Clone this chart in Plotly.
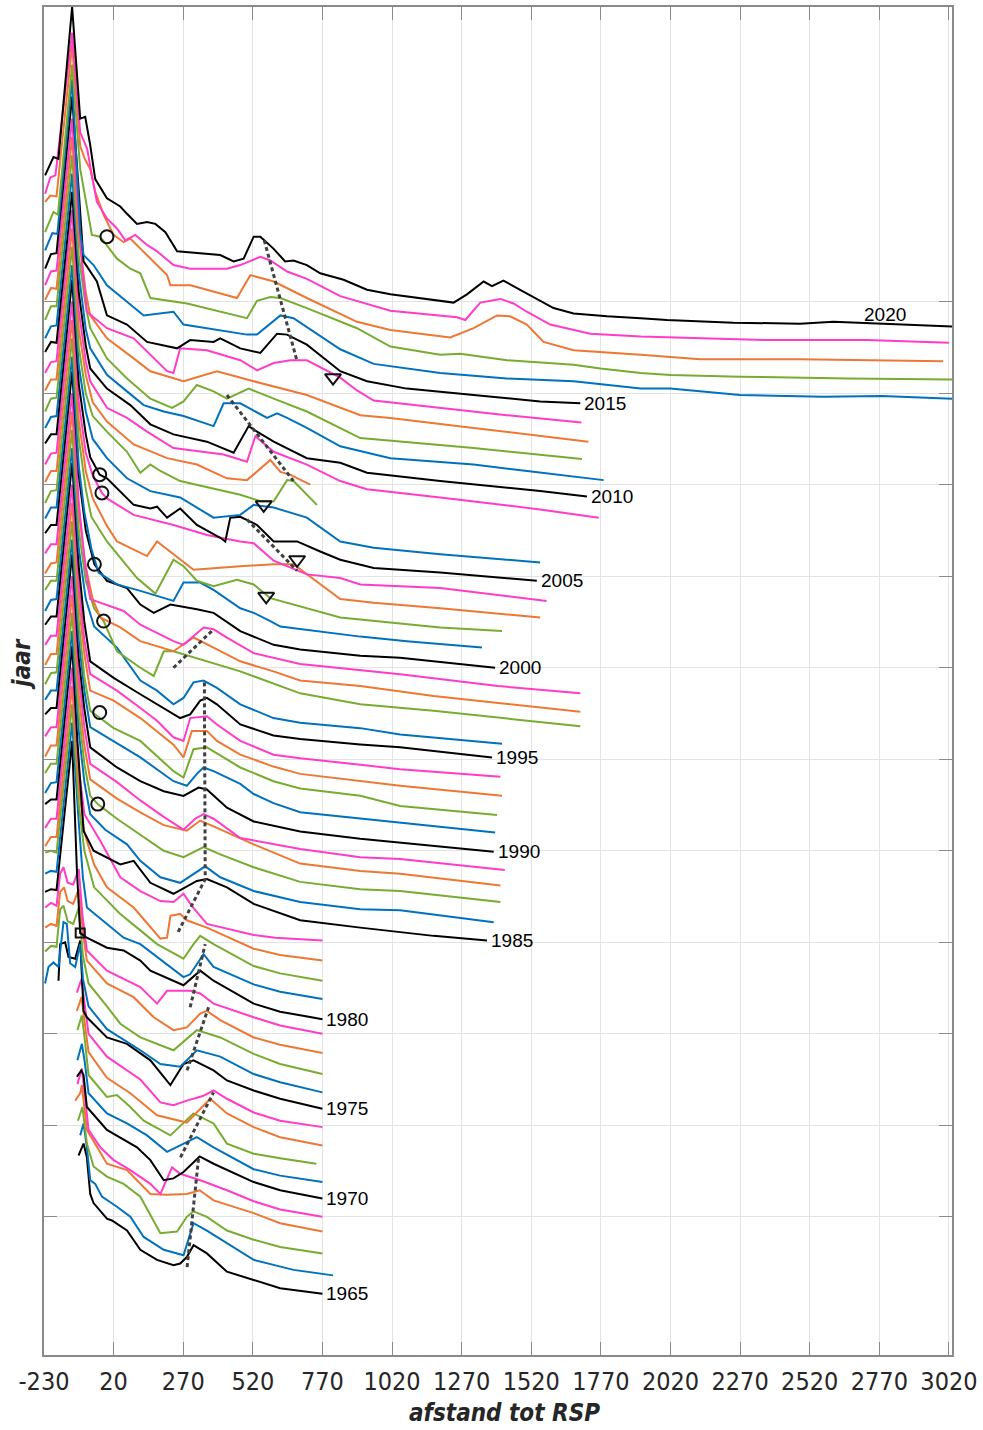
import plotly.graph_objects as go

# Cross-shore profiles per year: (distance to RSP [m], bed level [m]).
p1965 = [(-106,6.7),(-88,8.0),(-76,6.5),(-64,2.5),(-52,1.5),(-4,-0.2),(14,-0.4),(68,-1.5),(116,-3.6),(176,-4.7),(235,-5.3),(259,-5.1),(283,-4.4),(307,-3.1),(355,-4.0),(427,-6.0),(523,-6.9),(618,-7.8),(770,-8.4)]
p1966 = [(-100,6.9),(-88,8.2),(-76,5.6),(-64,2.0),(-46,1.6),(-22,0.2),(32,-0.9),(80,-2.0),(128,-4.2),(200,-5.6),(271,-6.2),(307,-2.7),(355,-3.5),(427,-4.9),(523,-6.7),(666,-7.8),(808,-8.4)]
p1967 = [(-108,6.5),(-92,8.0),(-76,4.0),(-52,1.5),(-4,0.4),(56,-0.4),(116,-1.8),(188,-5.8),(248,-5.6),(283,-4.0),(307,-3.4),(355,-4.0),(427,-5.5),(523,-6.5),(618,-7.3),(770,-8.0)]
p1968 = [(-118,6.7),(-100,7.5),(-94,8.4),(-76,3.5),(-4,-0.2),(68,-0.9),(152,-3.5),(212,-3.6),(283,-3.5),(329,-3.1),(379,-4.2),(523,-5.6),(618,-6.7),(770,-7.6)]
p1969 = [(-110,6.5),(-94,8.2),(-84,5.5),(-70,1.5),(-28,-0.4),(20,-1.8),(80,-2.9),(152,-4.4),(188,-5.5),(230,-2.6),(259,-3.3),(331,-4.0),(427,-5.1),(523,-6.3),(618,-7.2),(770,-8.0)]
p1970 = [(-112,5.3),(-96,6.0),(-88,5.5),(-76,2.0),(-4,-0.5),(104,-2.4),(152,-3.8),(200,-6.0),(235,-5.8),(271,-5.1),(329,-3.4),(379,-4.2),(523,-6.2),(618,-7.1),(770,-8.0)]
p1971 = [(-110,5.1),(-94,6.9),(-84,5.0),(-70,1.5),(-4,-0.7),(68,-1.8),(140,-3.1),(212,-4.9),(319,-3.3),(379,-4.4),(523,-6.8),(618,-7.5),(770,-8.2)]
p1972 = [(-110,6.4),(-94,8.0),(-84,5.5),(-70,1.5),(-4,-0.9),(32,-0.7),(80,-2.0),(128,-3.5),(224,-5.1),(307,-2.7),(379,-3.8),(427,-6.0),(523,-7.1),(618,-7.6),(748,-8.2)]
p1973 = [(-112,6.5),(-95,8.0),(-85,5.5),(-70,2.0),(-4,-0.8),(80,-2.5),(176,-4.9),(283,-5.7),(367,-3.1),(427,-4.7),(523,-6.2),(618,-7.3),(770,-8.2)]
p1974 = [(-112,6.5),(-95,8.0),(-85,5.5),(-70,2.0),(-4,-0.5),(116,-3.0),(188,-5.5),(235,-5.8),(283,-5.3),(340,-4.8),(379,-4.2),(427,-5.1),(523,-6.6),(618,-7.5),(770,-8.2)]
p1975 = [(-178,5.8),(-172,9.8),(-154,10.0),(-142,8.4),(-118,8.2),(-100,10.2),(-88,2.5),(-76,1.8),(-4,-0.4),(68,-1.1),(152,-2.9),(224,-5.6),(271,-3.3),(307,-2.9),(379,-4.0),(427,-5.1),(523,-6.2),(618,-7.1),(770,-8.2)]
p1976 = [(-226,3.5),(-214,5.3),(-196,5.8),(-178,5.3),(-160,10.2),(-148,10.0),(-136,5.7),(-118,5.3),(-100,7.8),(-90,4.0),(-70,1.0),(-4,-1.5),(116,-3.8),(188,-5.3),(259,-5.6),(319,-3.8),(403,-4.5),(523,-6.4),(618,-7.3),(770,-8.4)]
p1977 = [(-226,5.0),(-205,5.6),(-185,5.5),(-172,9.6),(-160,10.0),(-145,8.3),(-125,8.0),(-105,9.8),(-90,4.5),(-70,1.5),(-4,-1.0),(44,-2.9),(116,-4.4),(235,-5.8),(319,-3.6),(403,-4.4),(523,-6.2),(618,-7.3),(770,-8.4)]
p1978 = [(-226,5.6),(-205,6.0),(-185,5.8),(-172,9.5),(-158,10.0),(-145,8.5),(-125,8.2),(-105,9.8),(-90,5.0),(-76,2.0),(-4,-0.5),(92,-2.0),(164,-4.2),(235,-5.6),(283,-5.3),(331,-3.8),(355,-3.5),(403,-4.5),(523,-6.4),(618,-7.2),(770,-8.1)]
p1979 = [(-226,5.8),(-205,6.3),(-185,6.0),(-172,9.5),(-160,10.2),(-145,8.5),(-125,8.3),(-105,10.0),(-92,5.0),(-76,1.1),(-4,-1.1),(116,-2.9),(176,-4.7),(212,-3.3),(295,-3.3),(331,-3.6),(379,-4.7),(523,-6.2),(618,-7.1),(770,-8.0)]
p1980 = [(-226,5.5),(-205,5.8),(-185,5.7),(-129,22.0),(-112,8.0),(-100,1.0),(-76,0.5),(-4,-0.6),(56,-0.9),(116,-2.0),(152,-3.1),(271,-4.7),(331,-3.1),(379,-4.2),(523,-6.7),(618,-7.6),(770,-8.4)]
p1981 = [(-226,5.5),(-205,5.8),(-185,5.7),(-129,22.0),(-105,11.0),(-90,5.0),(-76,1.8),(56,-1.5),(116,-2.2),(200,-4.2),(271,-5.8),(295,-5.5),(319,-4.4),(343,-3.3),(379,-4.7),(523,-6.6),(618,-7.4),(770,-8.2)]
p1982 = [(-226,5.8),(-205,6.0),(-185,5.8),(-129,22.0),(-105,11.0),(-85,6.0),(-50,2.0),(44,-0.9),(116,-2.7),(176,-4.2),(271,-5.8),(307,-4.2),(331,-3.3),(379,-4.2),(523,-6.6),(618,-7.4),(770,-8.2)]
p1983 = [(-226,4.5),(-205,5.5),(-185,5.5),(-129,22.0),(-105,11.0),(-85,6.0),(-50,2.5),(-4,0.0),(92,-2.2),(164,-4.7),(188,-5.6),(212,-5.5),(224,-3.1),(259,-2.9),(283,-3.6),(355,-4.4),(523,-6.7),(618,-7.4),(770,-8.0)]
p1984 = [(-226,4.5),(-205,5.5),(-185,5.5),(-129,22.0),(-105,11.0),(-85,6.0),(-28,3.1),(44,-0.9),(116,-2.4),(188,-3.5),(235,-3.6),(271,-2.7),(300,-4.0),(355,-6.0),(523,-7.2),(600,-7.5),(770,-7.8)]
p1985 = [(-226,5.1),(-205,5.6),(-185,5.6),(-129,22.4),(-110,12.0),(-95,5.0),(-88,2.2),(-52,0.0),(44,-1.5),(92,-1.1),(152,-3.5),(235,-4.7),(319,-3.3),(355,-3.1),(427,-4.0),(523,-5.8),(690,-7.6),(906,-8.4),(1169,-9.3),(1361,-9.8)]
p1986 = [(-226,4.3),(-205,5.4),(-185,5.5),(-129,22.0),(-105,11.0),(-85,5.5),(-64,2.0),(-10,0.3),(68,-1.3),(116,-3.1),(188,-4.9),(259,-5.5),(349,-3.7),(403,-4.9),(523,-6.4),(690,-7.6),(906,-8.4),(1049,-8.5),(1385,-9.8)]
p1987 = [(-226,4.5),(-205,5.5),(-185,5.5),(-129,22.0),(-105,11.0),(-85,5.5),(-64,2.0),(-37,1.1),(32,-0.5),(116,-2.3),(200,-4.0),(271,-4.7),(343,-3.6),(403,-4.4),(523,-5.8),(690,-7.4),(906,-8.2),(1049,-8.4),(1409,-9.6)]
p1988 = [(-226,4.3),(-205,5.5),(-185,5.5),(-129,22.0),(-105,11.0),(-85,5.5),(-64,1.8),(32,-0.3),(116,-1.8),(200,-3.2),(283,-3.8),(331,-2.7),(391,-3.5),(523,-5.3),(690,-7.4),(906,-8.2),(1049,-8.5),(1409,-9.8)]
p1989 = [(-226,4.5),(-205,5.5),(-185,5.5),(-129,22.0),(-105,11.0),(-85,5.5),(-64,1.5),(32,-0.5),(116,-2.5),(200,-4.3),(271,-5.7),(313,-4.5),(343,-4.0),(379,-4.5),(475,-6.6),(690,-7.8),(906,-8.7),(1049,-8.9),(1425,-10.1)]
p1990 = [(-226,4.9),(-205,5.6),(-185,5.6),(-129,22.4),(-105,11.0),(-85,5.5),(-64,1.3),(32,-0.9),(116,-2.4),(200,-3.5),(271,-4.0),(325,-3.1),(355,-3.3),(427,-5.3),(523,-6.8),(690,-7.9),(906,-8.7),(1049,-9.1),(1385,-10.1)]
p1991 = [(-226,4.5),(-205,5.5),(-185,5.5),(-129,22.0),(-105,11.0),(-85,5.5),(-64,1.5),(20,0.0),(116,-1.8),(235,-4.4),(283,-4.9),(319,-3.6),(343,-2.9),(379,-3.3),(475,-4.7),(523,-5.8),(594,-6.8),(690,-7.8),(1049,-8.9),(1390,-10.0)]
p1992 = [(-226,4.2),(-205,5.4),(-185,5.5),(-129,22.0),(-105,11.0),(-85,5.0),(-64,1.3),(20,-0.6),(116,-2.0),(235,-5.3),(271,-6.0),(307,-2.9),(355,-2.7),(475,-4.9),(594,-6.4),(690,-7.2),(906,-8.0),(1049,-9.1),(1397,-10.1)]
p1993 = [(-226,4.3),(-205,5.5),(-185,5.5),(-129,22.0),(-105,11.0),(-85,5.5),(-64,1.5),(20,0.4),(116,-1.5),(235,-4.4),(271,-5.8),(301,-2.9),(355,-2.9),(391,-4.0),(475,-5.5),(594,-6.8),(690,-7.6),(906,-8.4),(1049,-8.9),(1415,-10.0)]
p1994 = [(-226,4.5),(-205,5.5),(-185,5.5),(-129,22.0),(-105,11.0),(-85,5.0),(-64,1.3),(32,-0.5),(116,-2.4),(176,-3.8),(235,-5.6),(271,-6.0),(295,-3.5),(355,-3.3),(391,-4.2),(475,-6.0),(594,-7.5),(690,-7.9),(906,-8.6),(1049,-9.1),(1409,-9.9)]
p1995 = [(-226,4.7),(-205,5.6),(-185,5.6),(-129,22.4),(-105,11.0),(-85,5.0),(-64,0.7),(20,-1.1),(116,-2.9),(176,-4.0),(259,-5.5),(295,-5.1),(331,-3.6),(355,-3.3),(391,-4.0),(475,-6.2),(594,-7.4),(690,-7.8),(906,-8.4),(1049,-8.7),(1379,-9.8)]
p1996 = [(-226,4.2),(-205,5.4),(-185,5.5),(-129,22.0),(-105,11.0),(-80,5.5),(-50,2.5),(32,0.2),(116,-3.4),(176,-4.5),(235,-6.0),(271,-5.3),(307,-3.6),(343,-3.4),(391,-4.2),(475,-6.0),(594,-7.5),(690,-8.0),(906,-8.6),(1049,-9.3),(1415,-10.3)]
p1997 = [(-226,4.5),(-205,5.5),(-185,5.5),(-129,22.0),(-105,11.0),(-80,5.5),(-50,2.5),(-16,1.1),(32,-2.2),(116,-4.0),(164,-4.9),(200,-2.2),(235,-2.2),(355,-3.3),(475,-4.4),(690,-6.8),(906,-8.0),(1169,-8.7),(1696,-10.4)]
p1998 = [(-226,4.3),(-205,5.4),(-185,5.5),(-129,22.0),(-105,11.0),(-80,5.0),(-55,1.5),(-28,-0.5),(44,-1.6),(116,-3.1),(235,-4.2),(307,-2.7),(379,-3.8),(475,-5.3),(594,-6.4),(690,-7.4),(906,-8.0),(1169,-9.1),(1696,-10.8)]
p1999 = [(-226,4.5),(-205,5.5),(-185,5.5),(-129,22.0),(-105,10.0),(-85,4.0),(-64,-0.5),(56,-1.8),(116,-3.3),(235,-5.1),(271,-5.5),(343,-3.6),(379,-3.8),(427,-4.7),(523,-6.4),(690,-7.6),(1049,-8.7),(1400,-10.0),(1696,-10.8)]
p2000 = [(-226,4.7),(-205,5.6),(-185,5.6),(-129,22.4),(-105,11.0),(-80,5.0),(-49,1.3),(-4,-0.5),(68,-1.3),(116,-3.1),(164,-4.0),(224,-3.1),(319,-3.6),(379,-4.0),(475,-6.0),(595,-7.5),(690,-8.0),(906,-8.7),(1049,-8.9),(1390,-10.0)]
p2001 = [(-226,4.3),(-205,5.5),(-185,5.5),(-129,22.0),(-105,10.0),(-85,5.0),(-60,1.0),(-34,-1.6),(32,-2.9),(116,-3.6),(235,-4.7),(271,-2.7),(331,-2.7),(379,-3.5),(475,-5.5),(523,-6.0),(583,-6.9),(619,-7.5),(906,-8.6),(1073,-9.1),(1343,-9.8)]
p2002 = [(-226,4.0),(-205,5.3),(-185,5.4),(-129,22.0),(-105,11.0),(-80,5.5),(-60,2.5),(-4,-0.2),(104,-4.2),(170,-5.9),(235,-2.2),(271,-2.9),(319,-4.5),(379,-5.1),(463,-4.4),(523,-4.9),(583,-6.4),(714,-7.5),(834,-8.5),(1193,-9.6),(1415,-10.0)]
p2003 = [(-226,4.3),(-205,5.5),(-185,5.5),(-129,22.0),(-105,11.0),(-80,5.5),(-55,2.5),(-4,-0.5),(32,-2.2),(140,-3.8),(176,-2.2),(307,-5.3),(475,-4.9),(595,-4.7),(666,-4.7),(762,-6.9),(834,-8.5),(954,-8.9),(1193,-9.5),(1552,-10.5)]
p2004 = [(-226,4.2),(-205,5.4),(-185,5.5),(-129,22.0),(-105,11.0),(-80,5.5),(-55,3.0),(-22,1.1),(-4,0.5),(92,-1.3),(235,-2.4),(355,-3.5),(475,-4.2),(523,-4.4),(595,-6.3),(714,-7.8),(834,-8.2),(906,-8.9),(1193,-9.3),(1575,-10.7)]
p2005 = [(-226,4.5),(-205,5.5),(-185,5.5),(-129,22.4),(-105,11.0),(-80,5.5),(-64,3.0),(-30,1.1),(-4,0.7),(92,-2.2),(152,-2.6),(176,-2.4),(212,-3.6),(259,-2.6),(319,-4.4),(403,-5.8),(421,-6.2),(439,-3.6),(475,-3.5),(535,-4.4),(595,-6.2),(679,-6.2),(762,-7.3),(834,-8.2),(954,-9.1),(1193,-9.6),(1540,-10.5)]
p2006 = [(-226,4.2),(-205,5.4),(-185,5.5),(-129,22.0),(-105,11.0),(-80,6.0),(-55,3.0),(-4,0.9),(68,-1.3),(152,-2.7),(259,-3.4),(379,-5.6),(475,-5.3),(523,-4.2),(595,-4.5),(714,-5.6),(834,-8.2),(954,-8.9),(1193,-9.6),(1552,-10.5)]
p2007 = [(-226,4.0),(-205,5.4),(-185,5.5),(-129,22.0),(-105,11.0),(-80,6.0),(-55,3.5),(-4,1.8),(68,-0.4),(116,-2.7),(152,-1.8),(188,-2.5),(259,-3.6),(379,-4.4),(475,-5.1),(547,-5.8),(595,-5.8),(643,-3.5),(666,-3.6),(750,-6.2)]
p2008 = [(-226,4.3),(-205,5.5),(-185,5.5),(-129,22.0),(-105,11.0),(-80,6.0),(-55,3.0),(-4,0.9),(92,-1.6),(212,-3.1),(319,-3.8),(427,-5.3),(499,-5.5),(583,-3.3),(619,-4.6),(654,-4.9),(726,-6.0)]
p2009 = [(-226,4.2),(-205,5.4),(-185,5.5),(-129,22.0),(-105,11.0),(-80,5.5),(-64,3.3),(-4,0.4),(68,-0.7),(140,-2.2),(235,-4.0),(415,-4.7),(499,-5.5),(529,-2.7),(595,-4.4),(714,-5.8),(834,-7.6),(930,-8.5),(1193,-9.4),(1552,-10.7),(1762,-11.6)]
p2010 = [(-226,4.5),(-205,5.6),(-185,5.5),(-129,22.0),(-105,11.0),(-80,5.2),(-64,2.7),(-4,0.5),(80,-1.3),(152,-3.4),(235,-4.5),(355,-5.3),(451,-6.5),(505,-3.6),(535,-4.2),(595,-5.3),(714,-7.1),(834,-7.6),(930,-8.7),(1193,-9.6),(1552,-10.7),(1720,-11.3)]
p2011 = [(-226,4.0),(-205,5.3),(-185,5.4),(-129,22.0),(-105,11.0),(-80,5.0),(-64,2.9),(-4,0.0),(68,-1.8),(128,-3.3),(200,-4.0),(271,-4.5),(379,-5.6),(415,-3.1),(475,-3.1),(571,-4.7),(607,-4.2),(643,-4.7),(714,-5.8),(834,-7.8),(1014,-9.1),(1313,-9.8),(1505,-10.5),(1780,-11.5)]
p2012 = [(-226,4.0),(-205,5.5),(-185,5.5),(-129,22.0),(-105,11.0),(-80,5.5),(-64,3.1),(-4,-0.2),(68,-2.4),(152,-4.6),(230,-5.6),(271,-4.9),(319,-3.1),(379,-3.8),(427,-4.6),(505,-3.5),(595,-4.6),(714,-6.0),(906,-8.9),(1313,-10.0),(1702,-11.2)]
p2013 = [(-226,4.2),(-205,5.5),(-185,5.4),(-129,22.0),(-108,12.0),(-80,5.0),(-64,2.5),(-4,0.0),(92,-2.2),(152,-3.6),(271,-4.7),(391,-3.6),(523,-4.7),(714,-6.2),(906,-8.4),(1014,-8.7),(1313,-9.8),(1725,-11.3)]
p2014 = [(-226,3.8),(-205,5.3),(-185,5.4),(-129,22.0),(-108,12.0),(-90,5.0),(-76,0.9),(-4,-0.9),(92,-2.0),(164,-4.2),(212,-5.6),(235,-5.8),(259,-3.1),(355,-3.3),(475,-4.4),(535,-5.5),(595,-4.7),(655,-4.4),(714,-4.4),(834,-6.3),(894,-7.7),(954,-8.8),(1193,-9.6),(1432,-10.4),(1700,-11.2)]
p2015 = [(-226,3.6),(-205,5.2),(-185,5.3),(-129,22.4),(-105,12.0),(-88,4.4),(-40,2.2),(-4,-1.5),(68,-2.5),(140,-4.4),(248,-5.1),(295,-4.2),(379,-4.4),(403,-4.0),(475,-5.1),(547,-5.6),(607,-3.5),(643,-3.6),(714,-4.7),(834,-7.6),(930,-8.7),(1073,-9.5),(1313,-10.2),(1552,-10.9),(1696,-11.1)]
p2016 = [(-226,3.6),(-200,5.5),(-182,5.4),(-129,22.3),(-100,5.6),(-88,3.1),(-52,2.0),(-4,-0.2),(68,-2.0),(128,-3.5),(235,-3.1),(271,-4.5),(499,-5.6),(535,-5.6),(619,-3.5),(666,-3.8),(834,-7.2),(954,-8.8),(1193,-9.8),(1432,-10.4),(1672,-10.7),(1913,-11.5),(2020,-11.5),(2270,-12.2),(2570,-12.4),(2780,-12.3),(3031,-12.6)]
p2017 = [(-226,3.6),(-196,5.8),(-180,5.5),(-129,21.9),(-100,10.5),(-75,6.0),(-58,3.3),(-28,3.1),(32,0.7),(80,-0.4),(116,-0.9),(152,-3.6),(284,-4.2),(499,-5.8),(535,-3.9),(583,-3.5),(619,-3.6),(714,-4.7),(894,-6.9),(1014,-8.9),(1193,-9.8),(1265,-9.7),(1433,-10.4),(1672,-10.9),(1768,-11.3),(1913,-11.8),(2020,-12.0),(2270,-12.2),(2660,-12.4),(3031,-12.5)]
p2018 = [(-226,4.9),(-207,5.6),(-185,5.5),(-129,22.0),(-100,11.0),(-82,9.5),(-64,8.5),(-46,6.0),(-16,3.5),(20,1.3),(56,0.5),(80,0.9),(116,-0.2),(164,-1.6),(212,-3.1),(224,-4.2),(296,-4.2),(427,-5.3),(463,-5.6),(511,-3.1),(595,-3.8),(714,-5.6),(894,-8.2),(1014,-9.1),(1229,-9.9),(1313,-8.9),(1397,-7.5),(1444,-7.6),(1504,-8.5),(1564,-10.4),(1672,-11.3),(1913,-11.8),(2127,-12.3),(2485,-12.3),(2999,-12.5)]
p2019 = [(-226,3.8),(-207,5.6),(-189,5.8),(-129,21.4),(-100,10.5),(-75,8.7),(-58,5.8),(-40,2.9),(-4,1.1),(32,0.0),(62,-1.3),(98,-0.7),(140,-1.8),(176,-2.5),(235,-4.0),(295,-4.4),(427,-4.4),(475,-4.0),(547,-3.1),(583,-3.5),(643,-4.7),(714,-5.5),(834,-7.4),(1014,-9.0),(1253,-9.7),(1283,-10.0),(1337,-8.1),(1409,-7.7),(1456,-8.2),(1504,-9.1),(1588,-10.5),(1732,-11.5),(1913,-11.8),(2127,-12.0),(2366,-12.2),(2725,-12.2),(3020,-12.5)]
p2020 = [(-226,3.8),(-196,5.8),(-178,5.6),(-129,22.2),(-100,10.0),(-82,10.2),(-64,7.1),(-46,3.4),(-4,1.3),(44,0.4),(68,-0.4),(104,-1.5),(140,-1.3),(170,-1.5),(206,-2.4),(248,-4.5),(403,-4.9),(451,-5.6),(487,-5.3),(523,-2.9),(547,-2.9),(594,-4.2),(636,-5.6),(666,-5.5),(714,-6.0),(762,-6.9),(846,-7.6),(930,-8.7),(1014,-9.2),(1109,-9.6),(1205,-10.0),(1241,-10.1),(1289,-9.2),(1349,-7.8),(1379,-8.3),(1420,-7.7),(1480,-8.7),(1528,-9.5),(1600,-10.7),(1672,-11.3),(1792,-11.6),(1913,-11.8),(2007,-12.0),(2246,-12.3),(2485,-12.4),(2605,-12.2),(2785,-12.4),(3031,-12.7)]

years = list(range(1965, 2021))
profiles = dict(zip(years, [
    p1965, p1966, p1967, p1968, p1969, p1970, p1971, p1972, p1973, p1974,
    p1975, p1976, p1977, p1978, p1979, p1980, p1981, p1982, p1983, p1984,
    p1985, p1986, p1987, p1988, p1989, p1990, p1991, p1992, p1993, p1994,
    p1995, p1996, p1997, p1998, p1999, p2000, p2001, p2002, p2003, p2004,
    p2005, p2006, p2007, p2008, p2009, p2010, p2011, p2012, p2013, p2014,
    p2015, p2016, p2017, p2018, p2019, p2020]))

# Markers: (year, distance, bed level)
circle_marks = [(2018, -4, 1.1), (2005, -30, 1.1), (2004, -22, 1.1), (2000, -49, 1.3),
                (1997, -16, 1.1), (1992, -30, 1.1), (1987, -37, 1.1)]
triangle_marks = [(2014, 808, -6.3), (2007, 559, -6.2), (2004, 679, -6.2), (2002, 568, -6.2)]
square_marks = [(1980, -100, 1.0)]

# Bar crest migration paths in plot coordinates (distance, offset level)
crest_paths = [
    [(561, 116.7), (678, 103.6)],
    [(427, 99.8), (666, 90.4)],
    [(499, 86.2), (679, 80.6)],
    [(235, 70.0), (379, 74.2)],
    [(346, 68.4), (349, 46.9), (248, 40.9)],
    [(295, 32.9), (349, 39.8)],
    [(284, 26.0), (361, 32.9)],
    [(260, 16.5), (379, 23.6)],
    [(284, 4.5), (325, 16.4)],
]

label_years = [1965, 1970, 1975, 1980, 1985, 1990, 1995, 2000, 2005, 2010, 2015]
label_2020 = (2708, -11.4)

x_ticks = list(range(-230, 3021, 250))

YEAR_STEP = 2.0
BASE = 10.0
COLORS = {0: "#000000", 1: "#0072BD", 2: "#77AC30", 3: "#EE7733", 4: "#FF3CC8"}


def offset(year):
    return BASE + YEAR_STEP * (year - 1965)


fig = go.Figure()
for yr in years:
    pts = profiles[yr]
    fig.add_trace(go.Scatter(
        x=[p[0] for p in pts], y=[p[1] + offset(yr) for p in pts],
        mode="lines", line=dict(color=COLORS[yr % 5], width=2),
        hoverinfo="skip", showlegend=False))

for path in crest_paths:
    fig.add_trace(go.Scatter(
        x=[p[0] for p in path], y=[p[1] for p in path], mode="lines",
        line=dict(color="#404040", width=3, dash="4px,3px"),
        hoverinfo="skip", showlegend=False))

fig.add_trace(go.Scatter(
    x=[m[1] for m in circle_marks], y=[m[2] + offset(m[0]) for m in circle_marks],
    mode="markers", marker=dict(symbol="circle-open", size=13, color="#111111",
                                line=dict(width=2)), showlegend=False))
fig.add_trace(go.Scatter(
    x=[m[1] for m in triangle_marks], y=[m[2] + offset(m[0]) for m in triangle_marks],
    mode="markers", marker=dict(symbol="triangle-down-open", size=14, color="#111111",
                                line=dict(width=2)), showlegend=False))
fig.add_trace(go.Scatter(
    x=[m[1] for m in square_marks], y=[m[2] + offset(m[0]) for m in square_marks],
    mode="markers", marker=dict(symbol="square-open", size=9, color="#111111",
                                line=dict(width=2)), showlegend=False))

for yr in label_years:
    xe, ze = profiles[yr][-1]
    fig.add_annotation(x=xe, y=ze + offset(yr), text=str(yr), showarrow=False,
                       xanchor="left", yanchor="middle", xshift=2,
                       font=dict(family="Liberation Sans, Arial, sans-serif", size=19, color="#000"))
fig.add_annotation(x=label_2020[0], y=label_2020[1] + offset(2020), text="2020", showarrow=False,
                   xanchor="left", yanchor="middle",
                   font=dict(family="Liberation Sans, Arial, sans-serif", size=19, color="#000"))

NARROW = "Liberation Sans Narrow, Arial Narrow, DejaVu Sans Condensed, sans-serif"
fig.add_annotation(xref="paper", yref="paper", x=0.5077, y=-0.043, text="afstand tot RSP",
                   showarrow=False, xanchor="center", yanchor="middle",
                   font=dict(family=NARROW, size=24, color="#262626", weight="bold", style="italic"))
fig.add_annotation(xref="paper", yref="paper", x=-0.024, y=0.513, text="jaar", textangle=-90,
                   showarrow=False, xanchor="center", yanchor="middle",
                   font=dict(family=NARROW, size=24, color="#262626", weight="bold", style="italic"))

fig.update_layout(
    width=983, height=1430, margin=dict(l=44, r=31, t=5, b=75),
    paper_bgcolor="white", plot_bgcolor="white",
    xaxis=dict(range=[-230, 3031], tickvals=x_ticks, ticktext=[str(v) for v in x_ticks],
               showgrid=True, gridcolor="#e3e3e3", gridwidth=1, zeroline=False,
               showline=True, linecolor="#8a8a8a", linewidth=1.5, mirror="ticks",
               ticks="inside", ticklen=13, tickcolor="#8a8a8a",
               tickfont=dict(family=NARROW, size=25, color="#262626"), ticklabelstandoff=3),
    yaxis=dict(range=[-5.1, 142.2], tickvals=list(range(10, 111, 10)), showticklabels=False,
               showgrid=True, gridcolor="#e3e3e3", gridwidth=1, zeroline=False,
               showline=True, linecolor="#8a8a8a", linewidth=1.5, mirror="ticks",
               ticks="inside", ticklen=13, tickcolor="#8a8a8a"),
)

fig.write_html("out.html")
